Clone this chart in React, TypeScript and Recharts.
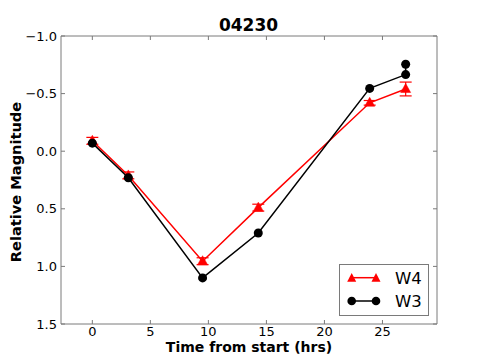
import React from "react";
import { ComposedChart, Line, XAxis, YAxis, ErrorBar, Legend } from "recharts";

const w4Time = [0, 3.1, 9.5, 14.3, 23.9, 27.0];
const w4Mag = [-0.09, 0.21, 0.955, 0.49, -0.42, -0.54];
const w4Err = [0.03, 0.03, 0.03, 0.03, 0.02, 0.06];

const w3Time = [0, 3.1, 9.5, 14.3, 23.9, 27.0, 27.0];
const w3Mag = [-0.07, 0.23, 1.1, 0.71, -0.545, -0.665, -0.755];

const xTicks = [0, 5, 10, 15, 20, 25];
const yTicks = [-1.0, -0.5, 0.0, 0.5, 1.0, 1.5];
const xDomain = [-2.7, 29.7];
const yDomain = [-1.0, 1.5];

const w4Data = w4Time.map((t, i) => ({ t, m: w4Mag[i], e: w4Err[i] }));
const w3Data = w3Time.map((t, i) => ({ t, m: w3Mag[i] }));

const FONT = "'DejaVu Sans', sans-serif";
const FRAME = "#7a7a7a";

const fmtY = (v: number) => (v < 0 ? "\u2212" + Math.abs(v).toFixed(1) : v.toFixed(1));

const BottomTick = (props: any) => {
  const { x, y, payload } = props;
  return (
    <g>
      <line x1={x} y1={y - 3} x2={x} y2={y - 7} stroke={FRAME} strokeWidth={1} />
      <text x={x} y={y} dy="0.71em" textAnchor="middle" fontSize={13} fontFamily={FONT} fill="#000">
        {payload.value}
      </text>
    </g>
  );
};

const TopTick = (props: any) => {
  const { x, y } = props;
  return <line x1={x} y1={y} x2={x} y2={y + 4} stroke={FRAME} strokeWidth={1} />;
};

const LeftTick = (props: any) => {
  const { x, y, payload } = props;
  return (
    <g>
      <line x1={x + 4} y1={y} x2={x + 8} y2={y} stroke={FRAME} strokeWidth={1} />
      <text x={x} y={y} dy="0.355em" textAnchor="end" fontSize={13} fontFamily={FONT} fill="#000">
        {fmtY(payload.value)}
      </text>
    </g>
  );
};

const RightTick = (props: any) => {
  const { x, y } = props;
  return <line x1={x} y1={y} x2={x - 4} y2={y} stroke={FRAME} strokeWidth={1} />;
};

const Triangle = (props: any) => {
  const { cx, cy } = props;
  if (cx == null || cy == null) return null;
  return <path d={`M${cx},${cy - 5.5} L${cx + 5},${cy + 3.5} L${cx - 5},${cy + 3.5} Z`} fill="#ff0000" stroke="#ff0000" strokeWidth={0.5} />;
};

const Circle = (props: any) => {
  const { cx, cy } = props;
  if (cx == null || cy == null) return null;
  return <circle cx={cx} cy={cy} r={4.5} fill="#000" />;
};

const LegendBox = () => (
  <div
    style={{
      width: 88,
      height: 50,
      border: `1px solid ${FRAME}`,
      background: "#fff",
      fontFamily: FONT,
      fontSize: 16,
      position: "relative",
    }}
  >
    <svg width={88} height={50} style={{ position: "absolute", left: 0, top: 0 }}>
      <line x1={11.7} y1={12.7} x2={36} y2={12.7} stroke="#ff0000" strokeWidth={1.5} />
      <path d="M11.7,8 L16.2,16.7 L7.2,16.7 Z" fill="#ff0000" />
      <path d="M36,8 L40.5,16.7 L31.5,16.7 Z" fill="#ff0000" />
      <line x1={11.7} y1={36} x2={36} y2={36} stroke="#000" strokeWidth={1.5} />
      <circle cx={11.7} cy={36} r={4.3} fill="#000" />
      <circle cx={36} cy={36} r={4.3} fill="#000" />
      <text x={55} y={18.5} fontSize={16.5} fontFamily={FONT} fill="#000">W4</text>
      <text x={55} y={41.8} fontSize={16.5} fontFamily={FONT} fill="#000">W3</text>
    </svg>
  </div>
);

export default function App() {
  return (
    <div style={{ position: "absolute", left: 0, top: 0, width: 485, height: 360, background: "#fff" }}>
      <ComposedChart
        width={485}
        height={360}
        margin={{ top: 35, right: 47, bottom: 0, left: 0 }}
        style={{ fontFamily: FONT }}
      >
        <XAxis
          xAxisId={0}
          type="number"
          dataKey="t"
          domain={xDomain}
          ticks={xTicks}
          allowDataOverflow
          height={36}
          tickSize={0}
          tickMargin={3}
          tick={<BottomTick />}
          axisLine={{ stroke: FRAME, strokeWidth: 1 }}
          tickLine={false}
        />
        <XAxis
          xAxisId="top"
          orientation="top"
          type="number"
          dataKey="t"
          domain={xDomain}
          ticks={xTicks}
          allowDataOverflow
          height={1}
          tickSize={0}
          tickMargin={0}
          tick={<TopTick />}
          axisLine={{ stroke: FRAME, strokeWidth: 1 }}
          tickLine={false}
        />
        <YAxis
          yAxisId={0}
          type="number"
          dataKey="m"
          domain={yDomain}
          ticks={yTicks}
          reversed
          allowDataOverflow
          width={61}
          tickSize={0}
          tickMargin={4}
          tick={<LeftTick />}
          axisLine={{ stroke: FRAME, strokeWidth: 1 }}
          tickLine={false}
        />
        <YAxis
          yAxisId="right"
          orientation="right"
          type="number"
          dataKey="m"
          domain={yDomain}
          ticks={yTicks}
          reversed
          allowDataOverflow
          width={1}
          tickSize={0}
          tickMargin={0}
          tick={<RightTick />}
          axisLine={{ stroke: FRAME, strokeWidth: 1 }}
          tickLine={false}
        />
        <Line
          xAxisId="top"
          yAxisId="right"
          data={w3Data}
          dataKey="m"
          stroke="transparent"
          dot={false}
          activeDot={false}
          legendType="none"
          isAnimationActive={false}
        />
        <Line
          data={w4Data}
          dataKey="m"
          name="W4"
          stroke="#ff0000"
          strokeWidth={1.5}
          dot={<Triangle />}
          activeDot={false}
          isAnimationActive={false}
        >
          <ErrorBar dataKey="e" direction="y" width={6} stroke="#ff0000" strokeWidth={1.2} />
        </Line>
        <Line
          data={w3Data}
          dataKey="m"
          name="W3"
          stroke="#000"
          strokeWidth={1.5}
          dot={<Circle />}
          activeDot={false}
          isAnimationActive={false}
        />
        <Legend
          layout="vertical"
          align="center"
          verticalAlign="middle"
          content={<LegendBox />}
          wrapperStyle={{ left: 339, top: 264, width: 90, height: 52 }}
        />
      </ComposedChart>
      <div
        style={{
          position: "absolute",
          left: 0,
          width: 485,
          top: 16,
          textAlign: "center",
          paddingLeft: 12,
          boxSizing: "border-box",
          fontFamily: FONT,
          fontWeight: "bold",
          fontSize: 17,
          lineHeight: "18px",
        }}
      >
        04230
      </div>
      <div
        style={{
          position: "absolute",
          left: 61,
          width: 376,
          top: 339,
          textAlign: "center",
          fontFamily: FONT,
          fontWeight: "bold",
          fontSize: 14,
          lineHeight: "16px",
        }}
      >
        Time from start (hrs)
      </div>
      <div
        style={{
          position: "absolute",
          left: 16,
          top: 182,
          width: 0,
          height: 0,
        }}
      >
        <div
          style={{
            position: "absolute",
            left: 0,
            top: 0,
            transform: "translate(-50%, -50%) rotate(-90deg)",
            whiteSpace: "nowrap",
            fontFamily: FONT,
            fontWeight: "bold",
            fontSize: 14.6,
            lineHeight: "16px",
          }}
        >
          Relative Magnitude
        </div>
      </div>
    </div>
  );
}
